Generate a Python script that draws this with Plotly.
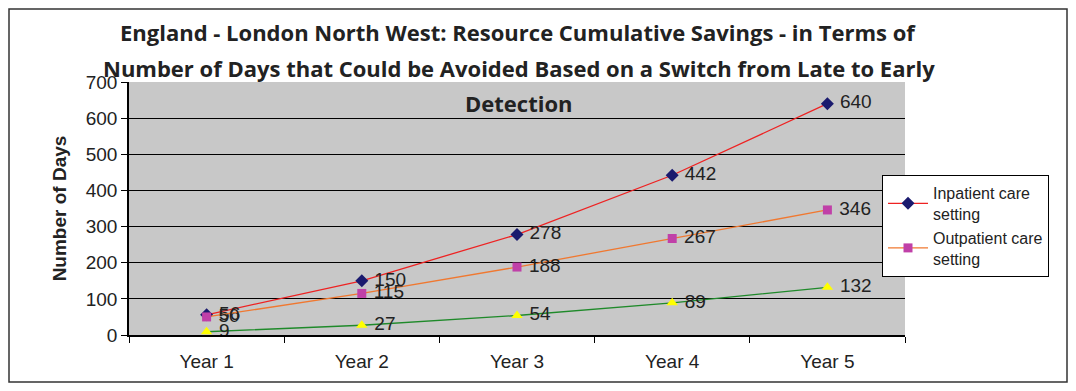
import plotly.graph_objects as go

years = ["Year 1", "Year 2", "Year 3", "Year 4", "Year 5"]
inpatient = [56, 150, 278, 442, 640]
outpatient = [50, 115, 188, 267, 346]
daycase = [9, 27, 54, 89, 132]

FONT = "Liberation Sans, Arial"
label_font = dict(family=FONT, size=19, color="#222222")

def labels(vals):
    return ["\u00a0" + str(v) for v in vals]

fig = go.Figure()
fig.add_trace(go.Scatter(
    x=years, y=inpatient, mode="lines+markers+text", name="Inpatient care<br>setting",
    line=dict(color="#ee2222", width=1.3),
    marker=dict(symbol="diamond", color="#1a1a6e", size=10),
    text=labels(inpatient), textposition="middle right",
    textfont=label_font,
))
fig.add_trace(go.Scatter(
    x=years, y=outpatient, mode="lines+markers+text", name="Outpatient care<br>setting",
    line=dict(color="#f07830", width=1.3),
    marker=dict(symbol="square", color="#c040a8", size=9),
    text=labels(outpatient), textposition="middle right",
    textfont=label_font,
))
fig.add_trace(go.Scatter(
    x=years, y=daycase, mode="lines+markers+text", name="Day case setting",
    line=dict(color="#1f8a2a", width=1.3),
    marker=dict(symbol="triangle-up", color="#ffff00", size=10),
    text=labels(daycase), textposition="middle right",
    textfont=label_font,
    showlegend=False,
))

# page coordinates (the html body adds an 8px offset)
OFF = 8
L, R, T, B = 129 - OFF, 905 - OFF, 82 - OFF, 335 - OFF
W, H = 1060, 375
pw, ph = R - L, B - T

def px(x):
    return (x - OFF - L) / pw

def py(y):
    return (B - (y - OFF)) / ph

title_font = dict(family="Open Sans", size=22, color="#222222")

fig.update_layout(
    width=W, height=H,
    margin=dict(l=L, r=W - R, t=T, b=H - B),
    paper_bgcolor="white",
    plot_bgcolor="#c8c8c8",
    font=dict(family=FONT, color="#222222"),
    showlegend=True,
    legend=dict(
        x=px(882), y=py(175), xanchor="left", yanchor="top",
        bgcolor="white", bordercolor="black", borderwidth=1,
        font=dict(size=16, color="#222222"),
        tracegroupgap=0, itemwidth=40,
    ),
    xaxis=dict(
        type="category", range=[-0.5, 4.5], tickson="boundaries",
        ticks="outside", ticklen=6, tickcolor="black",
        showline=True, linecolor="black", linewidth=1.5,
        showgrid=False, tickfont=dict(size=19, color="#222222"),
        ticklabelstandoff=8,
    ),
    yaxis=dict(
        range=[0, 700], dtick=100, ticks="outside", ticklen=6, tickcolor="black",
        showline=True, linecolor="black", linewidth=1.5,
        showgrid=True, gridcolor="black", gridwidth=1,
        tickfont=dict(size=19, color="#222222"), zeroline=False,
        title=dict(text="<b>Number of Days</b>", font=dict(size=19, color="#222222"), standoff=14),
    ),
    shapes=[dict(type="rect", xref="paper", yref="paper",
                 x0=px(9), x1=px(1067), y0=py(382), y1=py(9),
                 line=dict(color="#333333", width=1.5), layer="below")],
    annotations=[
        dict(text="<b>England - London North West: Resource Cumulative Savings - in Terms of</b>",
             xref="paper", yref="paper", x=px(518), y=py(32), xanchor="center", yanchor="middle",
             showarrow=False, font=title_font),
        dict(text="<b>Number of Days that Could be Avoided Based on a Switch from Late to Early</b>",
             xref="paper", yref="paper", x=px(519), y=py(68), xanchor="center", yanchor="middle",
             showarrow=False, font=title_font),
        dict(text="<b>Detection</b>",
             xref="paper", yref="paper", x=px(519), y=py(103), xanchor="center", yanchor="middle",
             showarrow=False, font=title_font),
    ],
)

fig.write_html("out.html")
